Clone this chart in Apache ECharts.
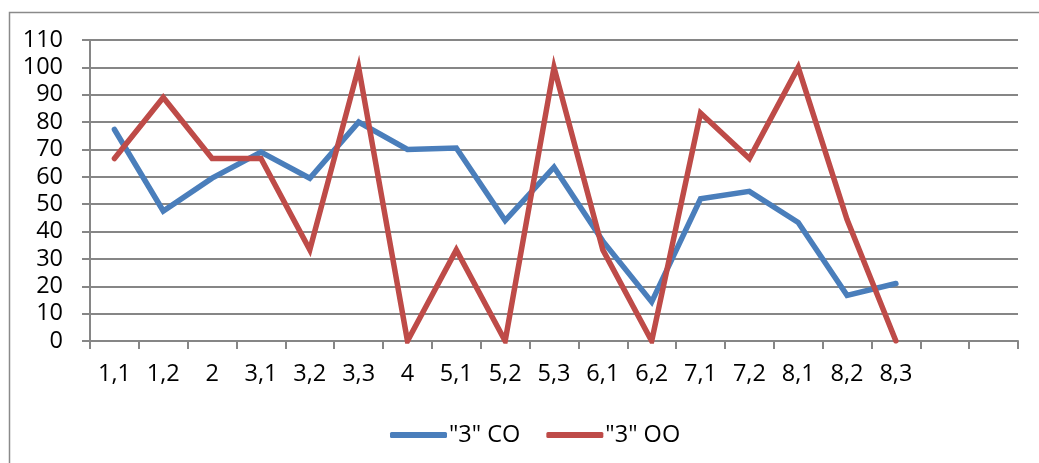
<!DOCTYPE html>
<html>
<head>
<meta charset="utf-8">
<script src="https://cdn.jsdelivr.net/npm/echarts@6/dist/echarts.min.js"></script>
<style>
html,body{margin:0;padding:0;background:#fff;}
#c{width:1039px;height:463px;}
</style>
</head>
<body>
<div id="c"></div>
<script>
const categories = ["1,1","1,2","2","3,1","3,2","3,3","4","5,1","5,2","5,3","6,1","6,2","7,1","7,2","8,1","8,2","8,3","",""];
const seriesNames = ['"3" CO', '"3" OO'];
const co = [77.3, 47.5, 59.5, 69, 59.5, 80, 70, 70.5, 44, 63.5, 36.5, 14.3, 52, 54.7, 43.3, 16.7, 21];
const oo = [66.7, 89, 66.7, 66.7, 33.3, 100, 0, 33.3, 0, 100, 33.3, 0, 83.3, 66.7, 100, 44.4, 0];
const yTicks = { min: 0, max: 110, interval: 10 };

const chart = echarts.init(document.getElementById('c'), null, {renderer: 'canvas'});
const font = '"Open Sans", "Noto Sans", sans-serif';
chart.setOption({
  animation: false,
  backgroundColor: '#ffffff',
  graphic: [{
    type: 'rect', left: 7, top: 10, z: -1,
    shape: { x: 0, y: 0, width: 1100, height: 500 },
    style: { fill: 'none', stroke: '#8a8a8a', lineWidth: 1.5 }
  }],
  grid: { left: 90, right: 21, top: 40, bottom: 122, containLabel: false },
  legend: {
    data: seriesNames,
    top: 418,
    left: 385,
    itemWidth: 57,
    itemHeight: 6,
    itemGap: 26,
    icon: 'roundRect',
    textStyle: { fontFamily: font, fontSize: 23.5, color: '#000', padding: [0,0,0,-3] }
  },
  xAxis: {
    type: 'category',
    data: categories,
    boundaryGap: true,
    axisLine: { lineStyle: { color: '#868686', width: 2 } },
    axisTick: { show: true, length: 8, inside: false, lineStyle: { color: '#868686', width: 2 }, alignWithLabel: false },
    axisLabel: { fontFamily: font, fontSize: 23.5, color: '#000', margin: 21, interval: 0 },
    splitLine: { show: false }
  },
  yAxis: {
    type: 'value',
    min: yTicks.min, max: yTicks.max, interval: yTicks.interval,
    axisLine: { show: true, lineStyle: { color: '#868686', width: 2 } },
    axisTick: { show: true, length: 8, lineStyle: { color: '#868686', width: 2 } },
    axisLabel: { fontFamily: font, fontSize: 23.5, color: '#000', margin: 27 },
    splitLine: { show: true, lineStyle: { color: '#868686', width: 2 } }
  },
  series: [
    { name: seriesNames[0], type: 'line', data: co, symbol: 'none', color: '#4a7ebb',
      lineStyle: { width: 5.5, color: '#4a7ebb', cap: 'round', join: 'miter' } },
    { name: seriesNames[1], type: 'line', data: oo, symbol: 'none', color: '#be4b48',
      lineStyle: { width: 5.5, color: '#be4b48', cap: 'round', join: 'miter' } }
  ]
});
</script>
</body>
</html>
